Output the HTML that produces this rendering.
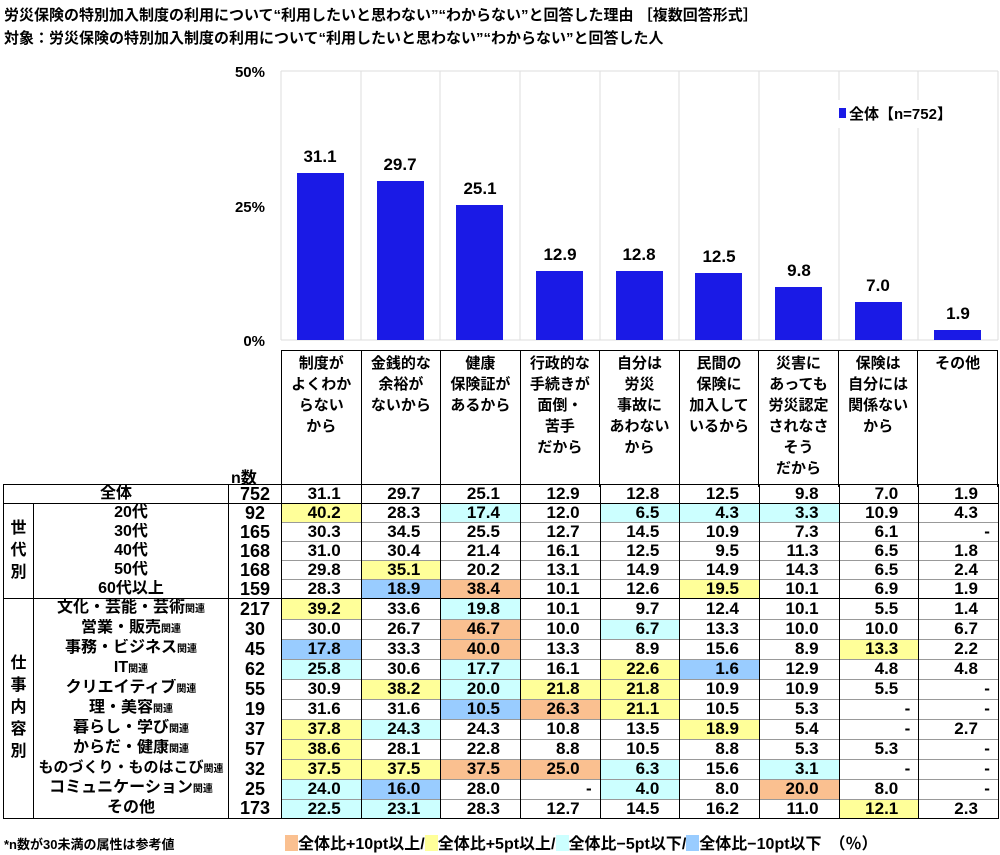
<!DOCTYPE html>
<html><head><meta charset="utf-8"><style>
body{margin:0;width:1000px;height:855px;background:#fff;position:relative;font-family:"Liberation Sans","Noto Sans CJK JP",sans-serif;font-weight:bold;color:#000;overflow:hidden}
.t{position:absolute;left:4px;font-size:15px;white-space:nowrap}
table{border-collapse:collapse;position:absolute;table-layout:fixed}
#hd{left:281px;top:350px;width:717px}
#hd td{border-left:1.5px solid #000;border-right:1.5px solid #000;border-top:1.5px solid #000;height:133px;vertical-align:top;text-align:center;font-size:15px;line-height:21px;padding-top:2px}
#dt{left:3px;top:484px;width:995px;font-size:17px}
#dt td{height:18px;padding:0;line-height:18px;border-left:1.5px solid #000;border-right:1.5px solid #000;border-top:1px solid #999;text-align:right;padding-right:20px;white-space:nowrap;overflow:hidden}
#dt td.l{text-align:center;padding-right:0;font-size:16px}
#dt td.n{text-align:center;padding-right:0;font-size:18px}
#dt td.g{text-align:center;padding:0;font-size:16px;line-height:22px;vertical-align:middle}
#dt tr.b td{border-top:1.5px solid #000}
#dt td.nb{border-top:none}
#dt{border:1.5px solid #000}
small{font-size:10px}
.Y{background:#ffff99}.C{background:#ccffff}.B{background:#99ccff}.O{background:#fac090}
td.d{padding-right:8px!important}
</style></head><body>
<div class="t" style="top:4px">労災保険の特別加入制度の利用について“利用したいと思わない”“わからない”と回答した理由 ［複数回答形式］</div>
<div class="t" style="top:27px">対象：労災保険の特別加入制度の利用について“利用したいと思わない”“わからない”と回答した人</div>
<svg style="position:absolute;left:0;top:0" width="1000" height="350">
<g stroke="#ddd" stroke-width="1">
<line x1="281" y1="71" x2="998" y2="71"/><line x1="281" y1="71" x2="281" y2="340"/><line x1="998" y1="71" x2="998" y2="340"/>
<line x1="361" y1="71" x2="361" y2="340"/><line x1="440" y1="71" x2="440" y2="340"/><line x1="520" y1="71" x2="520" y2="340"/><line x1="600" y1="71" x2="600" y2="340"/><line x1="679" y1="71" x2="679" y2="340"/><line x1="759" y1="71" x2="759" y2="340"/><line x1="839" y1="71" x2="839" y2="340"/><line x1="918" y1="71" x2="918" y2="340"/>
<line x1="281" y1="340" x2="998" y2="340"/>
</g>
<g font-size="15" text-anchor="end" font-family="Liberation Sans Narrow,Liberation Sans,sans-serif" font-weight="bold">
<text x="265" y="77">50%</text><text x="265" y="212">25%</text><text x="265" y="346">0%</text></g>
<rect x="836" y="100" width="130" height="28" fill="#fff"/>
<rect x="839" y="108" width="7" height="10" fill="#1a1ae6"/>
<text x="849" y="119" font-size="15" font-family="Liberation Sans Narrow,Liberation Sans,Noto Sans CJK JP,sans-serif" font-weight="bold">全体【n=752】</text>
<g fill="#1a1ae6">
<rect x="297" y="173" width="47" height="167"/><rect x="377" y="181" width="47" height="159"/><rect x="456" y="205" width="47" height="135"/><rect x="536" y="271" width="47" height="69"/><rect x="616" y="271" width="47" height="69"/><rect x="695" y="273" width="47" height="67"/><rect x="775" y="287" width="47" height="53"/><rect x="855" y="302" width="47" height="38"/><rect x="934" y="330" width="47" height="10"/>
</g>
<g font-size="17" text-anchor="middle" font-family="Liberation Sans Narrow,Liberation Sans,sans-serif" font-weight="bold">
<text x="320" y="162">31.1</text><text x="400" y="170">29.7</text><text x="480" y="194">25.1</text><text x="560" y="260">12.9</text><text x="639" y="260">12.8</text><text x="719" y="262">12.5</text><text x="799" y="276">9.8</text><text x="878" y="291">7.0</text><text x="958" y="319">1.9</text>
</g></svg>
<table id="hd"><tr>
<td>制度が<br>よくわか<br>らない<br>から</td><td>金銭的な<br>余裕が<br>ないから</td><td>健康<br>保険証が<br>あるから</td><td>行政的な<br>手続きが<br>面倒・<br>苦手<br>だから</td><td>自分は<br>労災<br>事故に<br>あわない<br>から</td><td>民間の<br>保険に<br>加入して<br>いるから</td><td>災害に<br>あっても<br>労災認定<br>されなさ<br>そう<br>だから</td><td>保険は<br>自分には<br>関係ない<br>から</td><td>その他</td>
</tr></table>
<div style="position:absolute;left:231px;top:464px;font-size:16px">n数</div>
<table id="dt">
<colgroup><col style="width:30px"><col style="width:195px"><col style="width:53px"><col span="9" style="width:79.67px"></colgroup>
<tr class="b"><td class="l" colspan="2">全体</td><td class="n">752</td><td>31.1</td><td>29.7</td><td>25.1</td><td>12.9</td><td>12.8</td><td>12.5</td><td>9.8</td><td>7.0</td><td>1.9</td></tr>
<tr class="b"><td class="g" rowspan="5">世<br>代<br>別</td><td class="l">20代</td><td class="n">92</td><td class="Y">40.2</td><td>28.3</td><td class="C">17.4</td><td>12.0</td><td class="C">6.5</td><td class="C">4.3</td><td class="C">3.3</td><td>10.9</td><td>4.3</td></tr>
<tr><td class="l nb">30代</td><td class="n nb">165</td><td>30.3</td><td>34.5</td><td>25.5</td><td>12.7</td><td>14.5</td><td>10.9</td><td>7.3</td><td>6.1</td><td class="d">-</td></tr>
<tr><td class="l nb">40代</td><td class="n nb">168</td><td>31.0</td><td>30.4</td><td>21.4</td><td>16.1</td><td>12.5</td><td>9.5</td><td>11.3</td><td>6.5</td><td>1.8</td></tr>
<tr><td class="l nb">50代</td><td class="n nb">168</td><td>29.8</td><td class="Y">35.1</td><td>20.2</td><td>13.1</td><td>14.9</td><td>14.9</td><td>14.3</td><td>6.5</td><td>2.4</td></tr>
<tr><td class="l nb">60代以上</td><td class="n nb">159</td><td>28.3</td><td class="B">18.9</td><td class="O">38.4</td><td>10.1</td><td>12.6</td><td class="Y">19.5</td><td>10.1</td><td>6.9</td><td>1.9</td></tr>
<tr class="b"><td class="g" rowspan="12">仕<br>事<br>内<br>容<br>別</td><td class="l">文化・芸能・芸術<small>関連</small></td><td class="n">217</td><td class="Y">39.2</td><td>33.6</td><td class="C">19.8</td><td>10.1</td><td>9.7</td><td>12.4</td><td>10.1</td><td>5.5</td><td>1.4</td></tr>
<tr><td class="l nb">営業・販売<small>関連</small></td><td class="n nb">30</td><td>30.0</td><td>26.7</td><td class="O">46.7</td><td>10.0</td><td class="C">6.7</td><td>13.3</td><td>10.0</td><td>10.0</td><td>6.7</td></tr>
<tr><td class="l nb">事務・ビジネス<small>関連</small></td><td class="n nb">45</td><td class="B">17.8</td><td>33.3</td><td class="O">40.0</td><td>13.3</td><td>8.9</td><td>15.6</td><td>8.9</td><td class="Y">13.3</td><td>2.2</td></tr>
<tr><td class="l nb">IT<small>関連</small></td><td class="n nb">62</td><td class="C">25.8</td><td>30.6</td><td class="C">17.7</td><td>16.1</td><td class="Y">22.6</td><td class="B">1.6</td><td>12.9</td><td>4.8</td><td>4.8</td></tr>
<tr><td class="l nb">クリエイティブ<small>関連</small></td><td class="n nb">55</td><td>30.9</td><td class="Y">38.2</td><td class="C">20.0</td><td class="Y">21.8</td><td class="Y">21.8</td><td>10.9</td><td>10.9</td><td>5.5</td><td class="d">-</td></tr>
<tr><td class="l nb">理・美容<small>関連</small></td><td class="n nb">19</td><td>31.6</td><td>31.6</td><td class="B">10.5</td><td class="O">26.3</td><td class="Y">21.1</td><td>10.5</td><td>5.3</td><td class="d">-</td><td class="d">-</td></tr>
<tr><td class="l nb">暮らし・学び<small>関連</small></td><td class="n nb">37</td><td class="Y">37.8</td><td class="C">24.3</td><td>24.3</td><td>10.8</td><td>13.5</td><td class="Y">18.9</td><td>5.4</td><td class="d">-</td><td>2.7</td></tr>
<tr><td class="l nb">からだ・健康<small>関連</small></td><td class="n nb">57</td><td class="Y">38.6</td><td>28.1</td><td>22.8</td><td>8.8</td><td>10.5</td><td>8.8</td><td>5.3</td><td>5.3</td><td class="d">-</td></tr>
<tr><td class="l nb" style="font-size:15px">ものづくり・ものはこび<small>関連</small></td><td class="n nb">32</td><td class="Y">37.5</td><td class="Y">37.5</td><td class="O">37.5</td><td class="O">25.0</td><td class="C">6.3</td><td>15.6</td><td class="C">3.1</td><td class="d">-</td><td class="d">-</td></tr>
<tr><td class="l nb">コミュニケーション<small>関連</small></td><td class="n nb">25</td><td class="C">24.0</td><td class="B">16.0</td><td>28.0</td><td class="d">-</td><td class="C">4.0</td><td>8.0</td><td class="O">20.0</td><td>8.0</td><td class="d">-</td></tr>
<tr><td class="l nb">その他</td><td class="n nb">173</td><td class="C">22.5</td><td class="C">23.1</td><td>28.3</td><td>12.7</td><td>14.5</td><td>16.2</td><td>11.0</td><td class="Y">12.1</td><td>2.3</td></tr>
</table>
<div style="position:absolute;left:4px;top:834px;font-size:13px">*n数が30未満の属性は参考値</div>
<div style="position:absolute;left:285px;top:830px;font-size:16px;white-space:nowrap">
<span style="display:inline-block;width:13px;height:16px;background:#fac090;vertical-align:-2px"></span>全体比+10pt以上/<span style="display:inline-block;width:13px;height:16px;background:#ffff99;vertical-align:-2px"></span>全体比+5pt以上/<span style="display:inline-block;width:13px;height:16px;background:#ccffff;vertical-align:-2px"></span>全体比−5pt以下/<span style="display:inline-block;width:13px;height:16px;background:#99ccff;vertical-align:-2px"></span>全体比−10pt以下　（％）</div>
</body></html>
